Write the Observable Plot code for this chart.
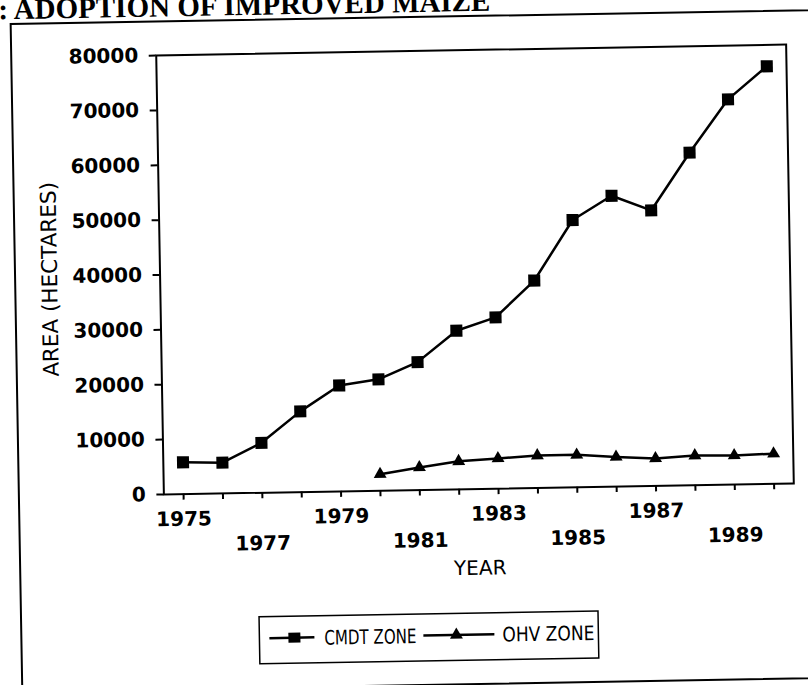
<!DOCTYPE html>
<html>
<head>
<meta charset="utf-8">
<script src="https://cdn.jsdelivr.net/npm/d3@7"></script>
<script src="https://cdn.jsdelivr.net/npm/@observablehq/plot@0.6"></script>
<style>
html, body { margin: 0; padding: 0; background: #fff; overflow: hidden; }
#fig { position: relative; width: 808px; height: 685px; transform: rotate(-1deg); transform-origin: 474.5px 269px; }
#title { position: absolute; left: 3px; top: -13px; font: bold 29px "Liberation Serif", serif; line-height: 29px; white-space: nowrap; color: #000; }
#border { position: absolute; left: 14px; top: 15px; width: 1000px; height: 670px; box-sizing: border-box; border: 2px solid #000; }
#chart { position: absolute; left: 0; top: 0; }
#legend { position: absolute; left: 252px; top: 612px; }
</style>
</head>
<body>
<div id="fig">
  <div id="title">: ADOPTION OF IMPROVED MAIZE</div>
  <div id="border"></div>
  <div id="chart"></div>
  <div id="legend"></div>
</div>
<script>
// ---- data ----
const cmdtYears = [1975, 1976, 1977, 1978, 1979, 1980, 1981, 1982, 1983, 1984, 1985, 1986, 1987, 1988, 1989, 1990];
const cmdtArea  = [5800, 5600, 9100, 14700, 19300, 20300, 23300, 28900, 31200, 37800, 48700, 53000, 50200, 60600, 70200, 76100];
const ohvYears  = [1980, 1981, 1982, 1983, 1984, 1985, 1986, 1987, 1988, 1989, 1990];
const ohvArea   = [3000, 4100, 5100, 5500, 5900, 5900, 5400, 5000, 5400, 5300, 5500];
const yTicks = [0, 10000, 20000, 30000, 40000, 50000, 60000, 70000, 80000];
const xTicks = [1975, 1976, 1977, 1978, 1979, 1980, 1981, 1982, 1983, 1984, 1985, 1986, 1987, 1988, 1989, 1990];
const xLabelsUpper = [1975, 1979, 1983, 1987];
const xLabelsLower = [1977, 1981, 1985, 1989];
const seriesNames = ["CMDT ZONE", "OHV ZONE"];
const xTitle = "YEAR";
const yTitle = "AREA (HECTARES)";

const cmdt = cmdtYears.map((year, i) => ({year, area: cmdtArea[i]}));
const ohv = ohvYears.map((year, i) => ({year, area: ohvArea[i]}));

const font = "DejaVu Sans";
const chart = Plot.plot({
  width: 808,
  height: 600,
  marginLeft: 159.5,
  marginRight: 18.5,
  marginTop: 49.5,
  marginBottom: 111.5,
  x: {domain: [1974.5, 1990.5]},
  y: {domain: [0, 80000]},
  style: {fontFamily: font, background: "transparent", overflow: "visible", color: "#000"},
  marks: [
    Plot.frame({stroke: "#000", strokeWidth: 2}),
    Plot.axisY(yTicks, {tickSize: 7, tickPadding: 11, fontSize: 20, fontWeight: "bold", tickFormat: d => String(d), strokeWidth: 2, label: null}),
    Plot.axisX(xTicks, {tickSize: 6, tickFormat: () => "", strokeWidth: 2, label: null}),
    Plot.text(xLabelsUpper, {x: d => d, text: d => String(d), frameAnchor: "bottom", lineAnchor: "top", dy: 17.5, fontSize: 20, fontWeight: "bold", fill: "#000"}),
    Plot.text(xLabelsLower, {x: d => d, text: d => String(d), frameAnchor: "bottom", lineAnchor: "top", dy: 43, fontSize: 20, fontWeight: "bold", fill: "#000"}),
    Plot.text([xTitle], {text: d => d, frameAnchor: "bottom", lineAnchor: "top", dy: 71.5, fontSize: 20, fill: "#000"}),
    Plot.text([yTitle], {text: d => d, frameAnchor: "left", textAnchor: "middle", dx: -110, dy: 2.5, rotate: -90, fontSize: 21.5, fill: "#000"}),
    Plot.line(cmdt, {x: "year", y: "area", stroke: "#000", strokeWidth: 2.5}),
    Plot.dot(cmdt, {x: "year", y: "area", symbol: "square", r: 6.8, fill: "#000", stroke: "none"}),
    Plot.line(ohv, {x: "year", y: "area", stroke: "#000", strokeWidth: 2.5}),
    Plot.dot(ohv, {x: "year", y: "area", symbol: "triangle", r: 4.8, fill: "#000", stroke: "none"})
  ]
});
document.getElementById("chart").appendChild(chart);

// ---- legend ----
const leg = d3.create("svg").attr("width", 342).attr("height", 52).style("overflow", "visible");
leg.append("rect").attr("x", 1).attr("y", 1).attr("width", 339).attr("height", 47)
  .attr("fill", "none").attr("stroke", "#000").attr("stroke-width", 1.5);
const ly = 22.5;
// item 1
leg.append("line").attr("x1", 11).attr("x2", 56).attr("y1", ly).attr("y2", ly).attr("stroke", "#000").attr("stroke-width", 2.5);
leg.append("rect").attr("x", 36 - 6).attr("y", ly - 5).attr("width", 12).attr("height", 10).attr("fill", "#000");
leg.append("text").attr("x", 66).attr("y", 30).attr("font-family", font).attr("font-size", 20)
  .attr("textLength", 92).attr("lengthAdjust", "spacingAndGlyphs").text(seriesNames[0]);
// item 2
leg.append("line").attr("x1", 165).attr("x2", 236).attr("y1", ly).attr("y2", ly).attr("stroke", "#000").attr("stroke-width", 2.5);
leg.append("path").attr("d", d3.symbol(d3.symbolTriangle, Math.PI * 4.8 * 4.8)()).attr("transform", `translate(198,${ly})`).attr("fill", "#000");
leg.append("text").attr("x", 244).attr("y", 30).attr("font-family", font).attr("font-size", 20)
  .attr("textLength", 92).attr("lengthAdjust", "spacingAndGlyphs").text(seriesNames[1]);
document.getElementById("legend").appendChild(leg.node());
</script>
</body>
</html>
